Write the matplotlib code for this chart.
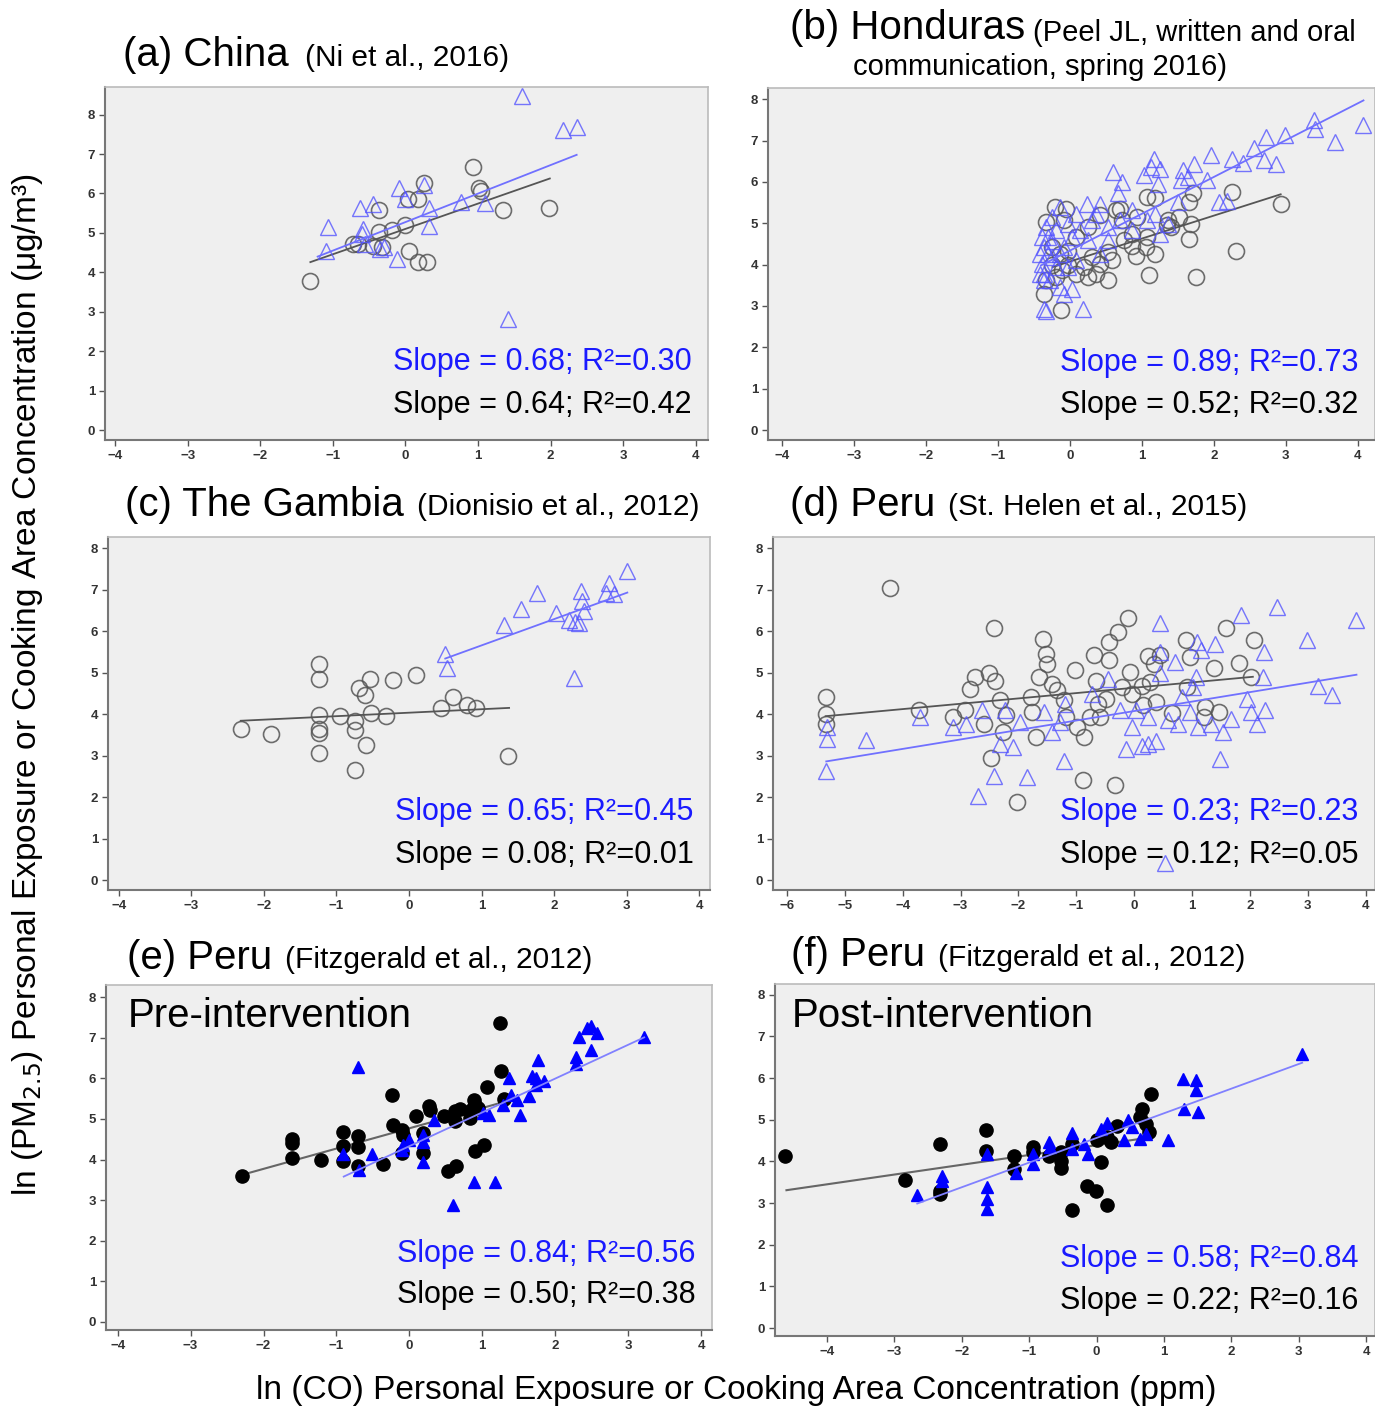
import matplotlib
matplotlib.use('Agg')
import matplotlib.pyplot as plt
import numpy as np

plt.rcParams['font.family'] = ['Liberation Sans', 'DejaVu Sans']

# (a) China
a_tri_x = [1.61, 2.17, 2.36, 1.42, -1.07, -1.09, -0.63, -0.44, -0.09, 0.25, 0.0, 0.32, 0.76, 1.09,
           0.32, -0.58, -0.60, -0.35, -0.30, -0.12, -0.56]
a_tri_y = [8.47, 7.62, 7.69, 2.83, 5.15, 4.54, 5.62, 5.73, 6.15, 6.21, 5.87, 5.64, 5.79, 5.76,
           5.17, 5.11, 4.98, 4.60, 4.64, 4.34, 4.72]
a_circ_x = [-1.32, -0.72, -0.65, -0.37, -0.36, -0.18, 0.0, -0.45, -0.32, 0.05, 0.17, 0.30, 0.25, 0.03,
            0.17, 0.93, 1.02, 1.04, 1.34, 1.98]
a_circ_y = [3.79, 4.72, 4.72, 5.57, 5.02, 5.08, 5.21, 4.68, 4.64, 4.54, 4.26, 4.27, 6.27, 5.87,
            5.87, 6.66, 6.13, 6.06, 5.57, 5.63]
a_blue_fit = ([-1.21, 2.36], [4.40, 6.98])
a_gray_fit = ([-1.31, 1.99], [4.26, 6.38])

# (b) Honduras
b_tri_x = [4.08, 3.39, 3.40, 3.68, 2.99, 2.73, 2.56, 2.70, 2.86, 2.41, 2.25, 1.96, 1.73, 1.90, 1.58,
           1.55, 1.64, 1.17, 1.13, 1.25, 1.03, 1.22, 0.60, 0.72, 0.67, 0.42, 0.24, 1.50, 2.08, 2.19,
           1.25, 1.19, 0.86, 0.70, 0.53, 0.31, 0.09, -0.02, -0.13, -0.24, -0.33, -0.38, -0.35, -0.30,
           -0.38, -0.35, -0.27, -0.19, -0.08, 0.03, 0.14, 0.25, -0.13, 0.03, -0.08, -0.35, -0.33, 0.19,
           -0.24, -0.19, -0.30, -0.41, -0.24, -0.13, -0.02, 0.09, 0.42, 0.53, 0.86, 1.08, 1.36, 0.36,
           -0.35, -0.41]
b_tri_y = [7.37, 7.49, 7.29, 6.97, 7.13, 7.09, 6.81, 6.52, 6.44, 6.46, 6.56, 6.64, 6.44, 6.04, 6.28,
           6.04, 6.12, 6.56, 6.35, 6.32, 6.16, 5.96, 6.24, 6.00, 5.72, 5.47, 5.47, 5.51, 5.51, 5.55,
           4.75, 5.23, 5.31, 5.07, 4.91, 5.07, 5.23, 4.99, 5.39, 5.15, 4.91, 4.67, 4.42, 4.26,
           4.02, 3.78, 3.62, 3.94, 4.42, 4.67, 4.83, 4.59, 3.46, 3.42, 3.29, 2.93, 2.89, 2.93,
           4.58, 4.83, 4.67, 4.26, 4.18, 4.26, 3.94, 4.10, 4.26, 4.59, 4.83, 5.07, 4.99, 5.23,
           3.62, 3.78]
b_circ_x = [2.93, 2.26, 2.31, 1.76, 1.10, 1.66, 1.68, 1.71, 1.66, 1.52, 1.35, 1.19, 1.06, 0.92, 0.86,
            0.75, 1.08, 1.19, 0.94, 0.64, 0.72, 0.53, 0.36, 0.25, 0.42, 0.31, 0.53, 0.59, 0.20, 0.09,
            -0.02, -0.10, -0.19, -0.12, -0.35, -0.33, -0.20, -0.05, -0.33, -0.08, 0.09, 0.25, 0.42,
            0.70, 1.36, 1.41, 0.86, 1.08, -0.13, -0.24, -0.24, -0.02]
b_circ_y = [5.46, 5.76, 4.34, 3.71, 3.75, 4.63, 4.99, 5.72, 5.51, 5.15, 4.95, 4.26, 4.42, 4.22, 4.46,
            4.59, 5.64, 5.60, 5.15, 5.31, 5.07, 3.62, 3.78, 3.70, 4.02, 4.18, 4.30, 4.10, 3.94, 3.78,
            3.98, 3.86, 3.70, 2.91, 3.29, 3.62, 5.39, 5.35, 5.03, 5.07, 4.67, 4.91, 5.19,
            5.35, 5.07, 4.91, 4.75, 4.67, 4.26, 4.42, 3.98, 4.34]
b_blue_fit = ([-0.40, 4.08], [3.98, 7.97])
b_gray_fit = ([-0.24, 2.93], [3.94, 5.70])

# (c) The Gambia
c_tri_x = [3.01, 2.76, 2.72, 2.83, 2.37, 2.39, 2.41, 1.76, 1.54, 1.31, 2.03, 2.21, 2.29, 2.34, 2.28,
           0.50, 0.53]
c_tri_y = [7.44, 7.17, 6.93, 6.89, 6.97, 6.73, 6.49, 6.93, 6.53, 6.15, 6.44, 6.26, 6.23, 6.20, 4.87,
           5.45, 5.10]
c_circ_x = [-2.32, -1.90, -1.24, -1.24, -1.24, -1.24, -1.24, -1.24, -0.95, -0.74, -0.75, -0.74, -0.69,
            -0.60, -0.59, -0.54, -0.53, -0.32, -0.22, 0.10, 0.44, 0.60, 0.80, 0.92, 1.37]
c_circ_y = [3.64, 3.53, 5.20, 4.85, 3.99, 3.64, 3.54, 3.06, 3.95, 3.84, 3.61, 2.66, 4.63,
            4.45, 3.25, 4.85, 4.03, 3.95, 4.82, 4.94, 4.15, 4.41, 4.23, 4.15, 3.00]
c_blue_fit = ([0.50, 3.01], [5.34, 6.93])
c_gray_fit = ([-2.32, 1.38], [3.84, 4.15])

# (d) Peru, St. Helen
d_circ_x = [-4.22, -5.33, -5.33, -5.33, -3.72, -3.13, -2.93, -2.84, -2.75, -2.60, -2.50, -2.41, -2.43,
            -2.48, -2.31, -2.27, -2.22, -2.02, -1.79, -1.76, -1.70, -1.64, -1.57, -1.52, -1.50, -1.42,
            -1.33, -1.21, -1.18, -1.02, -0.98, -0.88, -0.87, -0.76, -0.69, -0.66, -0.63, -0.59, -0.49,
            -0.43, -0.43, -0.34, -0.28, -0.21, -0.10, -0.08, -0.04, 0.13, 0.16, 0.23, 0.27, 0.34, 0.37,
            0.44, 0.65, 0.89, 0.92, 0.96, 1.22, 1.20, 1.37, 1.47, 1.59, 1.81, 2.02, 2.07]
d_circ_y = [7.03, 4.41, 4.01, 3.77, 4.11, 3.93, 4.09, 4.60, 4.90, 3.77, 4.98, 4.81, 6.08,
            2.94, 4.33, 3.56, 3.97, 1.87, 4.41, 4.05, 3.44, 4.90, 5.80, 5.46, 5.22, 4.73,
            4.57, 4.33, 3.93, 5.06, 3.69, 2.41, 3.44, 3.93, 5.42, 4.81, 4.25, 3.93, 4.37,
            5.30, 5.74, 2.29, 5.97, 4.65, 6.32, 5.02, 4.49, 4.69, 4.21, 5.40, 4.77, 5.22, 4.29,
            5.42, 4.02, 5.78, 4.65, 5.38, 4.17, 3.93, 5.10, 4.05, 6.08, 5.23, 4.90, 5.78]
d_tri_x = [-5.31, -5.31, -5.32, -4.63, -3.70, -3.13, -2.91, -2.69, -2.63, -2.43, -2.31, -2.10, -2.24,
           -1.97, -1.85, -1.55, -1.42, -1.21, -1.20, -1.28, -0.73, -0.45, -0.25, -0.14, -0.04, 0.13,
           0.23, 0.37, 0.44, 0.44, 0.44, 0.54, 0.58, 0.70, 0.75, 0.82, 0.96, 1.02, 1.09, 1.16, 1.11,
           1.33, 1.40, 1.49, 1.54, 1.68, 1.84, 1.95, 2.02, 2.12, 2.23, 2.24, 2.26, 2.47, 2.98, 3.18,
           3.42, 3.84, 0.03, 0.23, 1.06]
d_tri_y = [3.69, 3.40, 2.64, 3.38, 3.93, 3.69, 3.77, 2.03, 4.09, 2.52, 3.28, 3.20, 4.09,
           3.81, 2.48, 4.05, 3.56, 2.88, 4.25, 3.81, 4.49, 4.85, 4.09, 3.16, 3.69, 3.24,
           3.28, 3.36, 6.20, 5.50, 4.98, 0.40, 3.85, 5.26, 3.77, 4.41, 4.05, 4.65, 5.74, 5.54, 3.69,
           3.77, 5.70, 2.92, 3.56, 3.89, 6.39, 4.37, 4.05, 3.77, 4.90, 5.50, 4.09, 6.59, 5.78, 4.69,
           4.45, 6.28, 4.09, 3.93, 4.90]
d_blue_fit = ([-5.32, 3.84], [2.86, 4.95])
d_gray_fit = ([-5.33, 2.05], [3.95, 4.90])

# (e) Peru pre-intervention
e_circ_x = [-2.30, -1.61, -1.61, -1.61, -1.21, -0.91, -0.91, -0.91, -0.70, -0.70, -0.70, -0.36, -0.24,
            -0.23, -0.10, -0.09, -0.10, 0.09, 0.19, 0.19, 0.27, 0.28, 0.48, 0.53, 0.64, 0.63, 0.70,
            0.63, 0.83, 0.85, 0.88, 0.90, 0.94, 0.90, 1.03, 1.06, 1.24, 1.25, 1.30]
e_circ_y = [3.60, 4.50, 4.40, 4.03, 3.99, 4.69, 4.34, 3.97, 4.59, 4.30, 3.83, 3.89, 5.58,
            4.86, 4.73, 4.61, 4.16, 5.08, 4.65, 4.16, 5.33, 5.23, 5.08, 3.72, 3.84, 5.19, 5.24,
            4.95, 5.02, 5.23, 5.47, 5.35, 5.27, 4.22, 4.35, 5.79, 7.37, 6.19, 5.50]
e_tri_x = [-0.70, -0.91, -0.69, -0.51, -0.09, -0.01, -0.10, 0.19, 0.19, 0.19, 0.34, 0.60, 0.88, 1.17,
           1.01, 1.09, 1.28, 1.36, 1.40, 1.47, 1.52, 1.64, 1.68, 1.74, 1.76, 1.74, 1.85, 2.28, 2.29,
           2.32, 2.44, 2.49, 2.57, 2.49, 3.22]
e_tri_y = [6.27, 4.13, 3.74, 4.14, 4.36, 4.49, 4.24, 4.61, 4.44, 3.95, 4.98, 2.88, 3.44, 3.44,
           5.14, 5.10, 5.35, 6.01, 5.60, 5.47, 5.10, 5.56, 6.05, 6.01, 6.44, 5.84, 5.93, 6.52, 6.35,
           7.01, 7.24, 7.28, 7.12, 6.71, 7.01]
e_blue_fit = ([-0.90, 3.22], [3.58, 7.01])
e_gray_fit = ([-2.30, 1.30], [3.62, 5.42])

# (f) Peru post-intervention
f_circ_x = [-4.62, -2.84, -2.32, -2.32, -2.32, -1.64, -1.64, -1.22, -1.22, -0.95, -0.95, -0.71, -0.53,
            -0.53, -0.53, -0.37, -0.37, -0.14, -0.01, 0.07, 0.00, 0.16, 0.16, 0.22, 0.31, 0.67, 0.64,
            0.73, 0.78, 0.81]
f_circ_y = [4.12, 3.56, 4.42, 3.30, 3.22, 4.76, 4.25, 4.14, 3.82, 4.34, 4.22, 4.14, 4.22,
            4.02, 3.84, 2.83, 4.42, 3.42, 3.30, 3.98, 4.52, 2.95, 4.58, 4.46, 4.86, 5.27, 5.07,
            4.91, 4.70, 5.61]
f_tri_x = [-2.66, -2.30, -2.30, -1.62, -1.62, -1.62, -1.62, -1.20, -0.94, -0.94, -0.70, -0.69, -0.37,
           -0.37, -0.19, -0.13, 0.07, 0.16, 0.40, 0.46, 0.52, 0.64, 0.73, 1.06, 1.28, 1.29, 1.47, 1.48,
           1.50, 3.05]
f_tri_y = [3.19, 3.66, 3.54, 4.18, 3.38, 3.10, 2.86, 3.72, 3.94, 4.18, 4.46, 4.34, 4.68,
           4.30, 4.42, 4.18, 4.78, 4.92, 4.52, 4.99, 4.82, 4.54, 4.66, 4.52, 5.99, 5.27, 5.95, 5.71,
           5.19, 6.57]
f_blue_fit = ([-2.66, 3.05], [2.99, 6.37])
f_gray_fit = ([-4.60, 0.81], [3.31, 4.58])

blue_labels = ['Slope = 0.68; R²=0.30', 'Slope = 0.89; R²=0.73', 'Slope = 0.65; R²=0.45',
               'Slope = 0.23; R²=0.23', 'Slope = 0.84; R²=0.56', 'Slope = 0.58; R²=0.84']
black_labels = ['Slope = 0.64; R²=0.42', 'Slope = 0.52; R²=0.32', 'Slope = 0.08; R²=0.01',
                'Slope = 0.12; R²=0.05', 'Slope = 0.50; R²=0.38', 'Slope = 0.22; R²=0.16']

W, H = 1375, 1408
fig = plt.figure(figsize=(W / 100, H / 100), dpi=100)

def add_axes(left, top, right, bottom):
    return fig.add_axes([left / W, 1 - bottom / H, (right - left) / W, (bottom - top) / H])

def fig_text(x, y, s, **kw):
    fig.text(x / W, 1 - y / H, s, **kw)

def style_axes(ax, xlim, ylim, xticks):
    ax.set_facecolor('#efefef')
    ax.set_xlim(xlim)
    ax.set_ylim(ylim)
    ax.set_xticks(xticks)
    ax.set_yticks(range(0, 9))
    ax.tick_params(labelsize=9.5, colors='#555555', labelcolor='#333333', length=4, width=1, pad=3)
    for lab in ax.get_xticklabels() + ax.get_yticklabels():
        lab.set_fontweight('bold')
    for side in ['left', 'bottom']:
        ax.spines[side].set_color('#777777')
        ax.spines[side].set_linewidth(1.5)
    for side in ['top', 'right']:
        ax.spines[side].set_color('#bbbbbb')
        ax.spines[side].set_linewidth(1.2)

def draw_panel(ax, tri, circ, blue_fit, gray_fit, filled, idx):
    if filled:
        ax.plot(circ[0], circ[1], 'o', ms=9.5, color='black', mec='black', ls='none', zorder=3)
        ax.plot(tri[0], tri[1], '^', ms=9, color='#0000ff', mec='#0000ff', ls='none', zorder=3)
        ax.plot(gray_fit[0], gray_fit[1], color='#666666', lw=1.5, zorder=2)
        ax.plot(blue_fit[0], blue_fit[1], color='#8080ff', lw=1.3, zorder=4)
    else:
        ax.plot(circ[0], circ[1], 'o', ms=11.5, mfc='none', mec='#555555', mew=1.2, alpha=0.85,
                ls='none', zorder=3)
        ax.plot(tri[0], tri[1], '^', ms=12, mfc='none', mec='#5555ff', mew=1.0, alpha=0.8,
                ls='none', zorder=3)
        ax.plot(gray_fit[0], gray_fit[1], color='#555555', lw=1.3, zorder=2)
        ax.plot(blue_fit[0], blue_fit[1], color='#7070ff', lw=1.3, zorder=4)
    ax.text(0.973, 0.22, blue_labels[idx], transform=ax.transAxes, ha='right', va='center',
            fontsize=22, color='#1a1aff')
    ax.text(0.973, 0.10, black_labels[idx], transform=ax.transAxes, ha='right', va='center',
            fontsize=22, color='black')

axA = add_axes(105, 87, 708, 440)
style_axes(axA, (-4.14, 4.17), (-0.25, 8.7), range(-4, 5))
draw_panel(axA, (a_tri_x, a_tri_y), (a_circ_x, a_circ_y), a_blue_fit, a_gray_fit, False, 0)

axB = add_axes(768, 88, 1375, 440)
style_axes(axB, (-4.19, 4.24), (-0.24, 8.27), range(-4, 5))
draw_panel(axB, (b_tri_x, b_tri_y), (b_circ_x, b_circ_y), b_blue_fit, b_gray_fit, False, 1)

axC = add_axes(108, 537, 710, 890)
style_axes(axC, (-4.15, 4.15), (-0.24, 8.27), range(-4, 5))
draw_panel(axC, (c_tri_x, c_tri_y), (c_circ_x, c_circ_y), c_blue_fit, c_gray_fit, False, 2)

axD = add_axes(773, 537, 1375, 890)
style_axes(axD, (-6.24, 4.16), (-0.24, 8.27), range(-6, 5))
draw_panel(axD, (d_tri_x, d_tri_y), (d_circ_x, d_circ_y), d_blue_fit, d_gray_fit, False, 3)

axE = add_axes(106, 985, 712, 1330)
style_axes(axE, (-4.16, 4.15), (-0.2, 8.3), range(-4, 5))
draw_panel(axE, (e_tri_x, e_tri_y), (e_circ_x, e_circ_y), e_blue_fit, e_gray_fit, True, 4)
axE.text(0.036, 0.91, 'Pre-intervention', transform=axE.transAxes, fontsize=29, va='center')

axF = add_axes(775, 984, 1375, 1336)
style_axes(axF, (-4.77, 4.13), (-0.19, 8.26), range(-4, 5))
draw_panel(axF, (f_tri_x, f_tri_y), (f_circ_x, f_circ_y), f_blue_fit, f_gray_fit, True, 5)
axF.text(0.028, 0.91, 'Post-intervention', transform=axF.transAxes, fontsize=29, va='center')

# panel titles
big, small = 29, 21.5
fig_text(123, 55, '(a) China', fontsize=big, va='center')
fig_text(305, 58, '(Ni et al., 2016)', fontsize=small, va='center')
fig_text(790, 28, '(b) Honduras', fontsize=big, va='center')
fig_text(1033, 33, '(Peel JL, written and oral', fontsize=small - 0.5, va='center')
fig_text(853, 67, 'communication, spring 2016)', fontsize=small - 0.5, va='center')
fig_text(125, 505, '(c) The Gambia', fontsize=big, va='center')
fig_text(417, 507, '(Dionisio et al., 2012)', fontsize=small, va='center')
fig_text(790, 505, '(d) Peru', fontsize=big, va='center')
fig_text(948, 507, '(St. Helen et al., 2015)', fontsize=small, va='center')
fig_text(127, 958, '(e) Peru', fontsize=big, va='center')
fig_text(285, 960, '(Fitzgerald et al., 2012)', fontsize=small, va='center')
fig_text(791, 955, '(f) Peru', fontsize=big, va='center')
fig_text(938, 958, '(Fitzgerald et al., 2012)', fontsize=small, va='center')

# axis titles
fig_text(28, 685, 'ln (PM$_{2.5}$) Personal Exposure or Cooking Area Concentration (μg/m³)',
         fontsize=24, rotation=90, ha='center', va='center')
fig_text(736, 1390, 'ln (CO) Personal Exposure or Cooking Area Concentration (ppm)',
         fontsize=24, ha='center', va='center')

fig.savefig('out.png', dpi=100)
